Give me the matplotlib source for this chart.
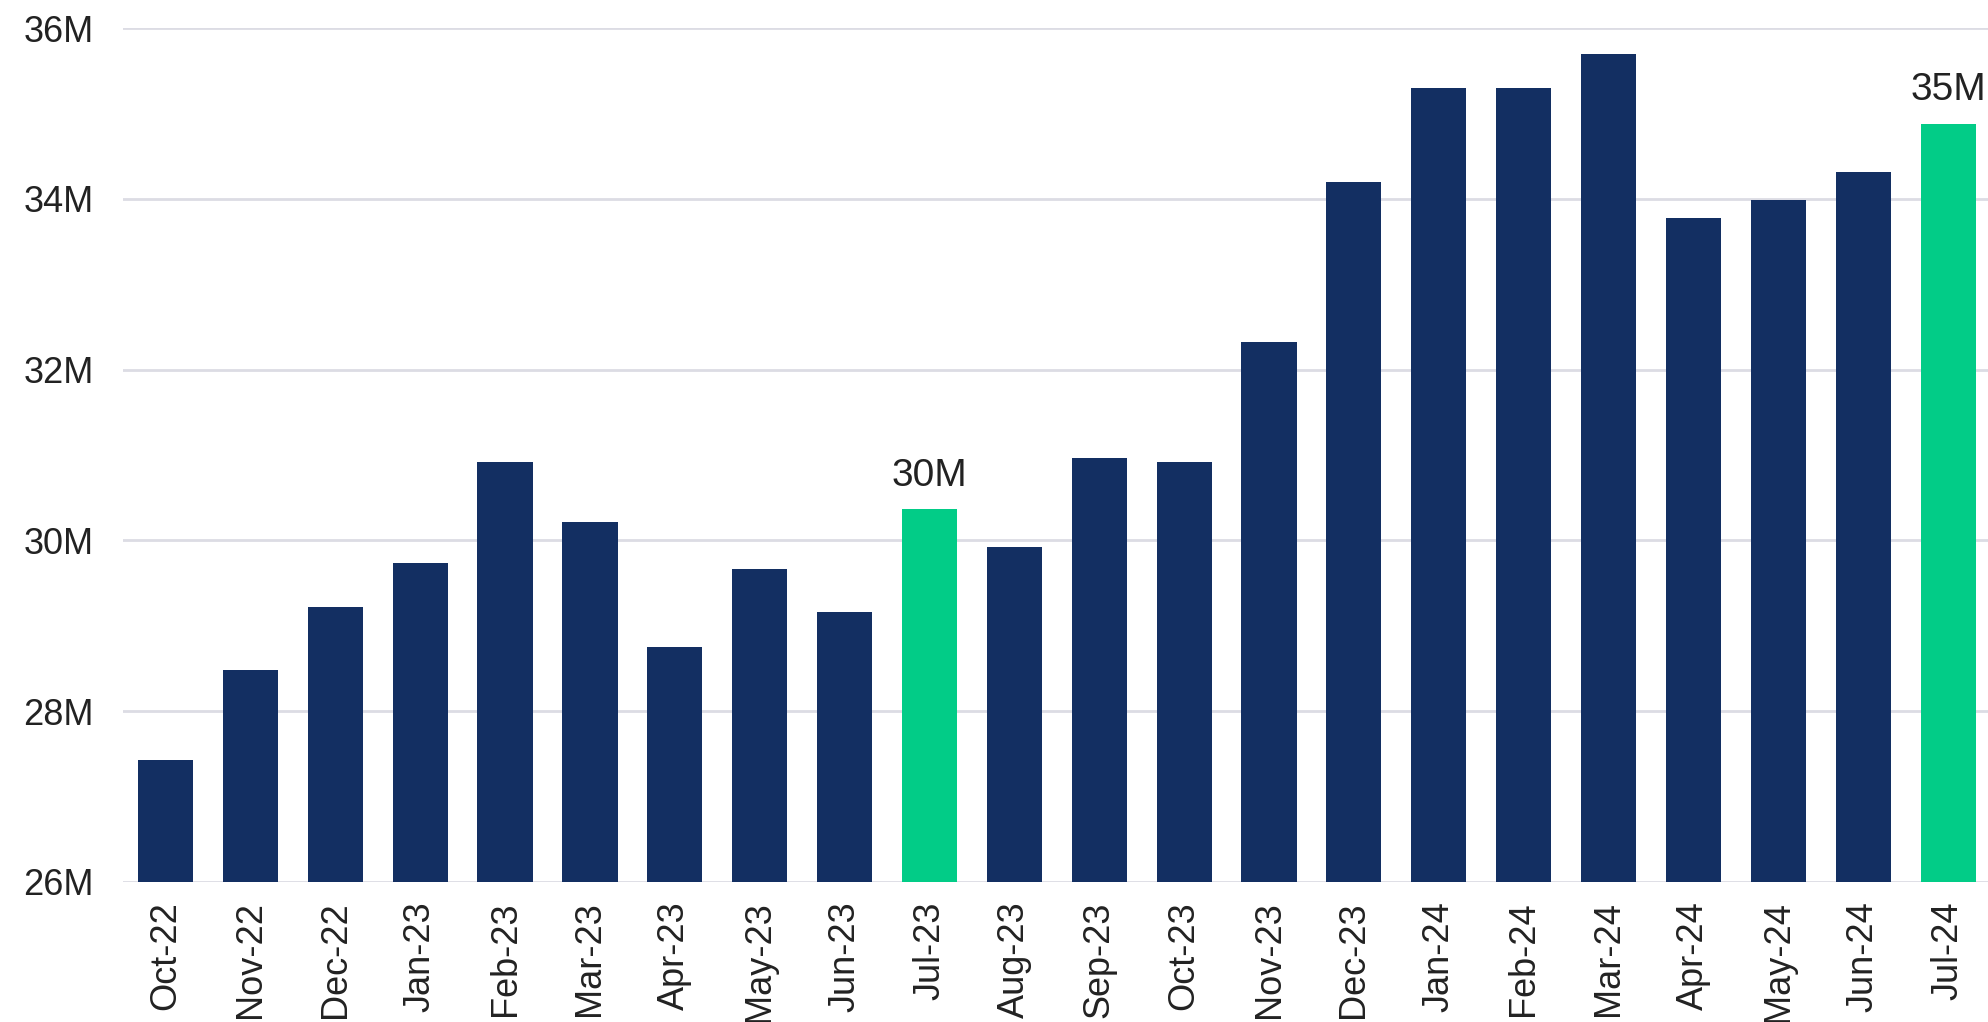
import matplotlib.pyplot as plt
from matplotlib.ticker import FuncFormatter

plt.rcParams['font.family'] = ['Liberation Sans', 'DejaVu Sans']

# monthly values, millions
months = ['Oct-22', 'Nov-22', 'Dec-22', 'Jan-23', 'Feb-23', 'Mar-23', 'Apr-23',
          'May-23', 'Jun-23', 'Jul-23', 'Aug-23', 'Sep-23', 'Oct-23', 'Nov-23',
          'Dec-23', 'Jan-24', 'Feb-24', 'Mar-24', 'Apr-24', 'May-24', 'Jun-24', 'Jul-24']
values = [27.43, 28.48, 29.22, 29.74, 30.92, 30.22, 28.75, 29.66, 29.16, 30.37,
          29.92, 30.96, 30.92, 32.32, 34.20, 35.30, 35.30, 35.70, 33.77, 33.99,
          34.31, 34.88]
highlight = ['Jul-23', 'Jul-24']

navy = '#132f62'
green = '#02cc87'
colors = [green if m in highlight else navy for m in months]

fig = plt.figure(figsize=(19.88, 10.22), dpi=100)
ax = fig.add_axes([0.0619, 0.137, 0.9381, 0.8356])

x = range(len(months))
ax.bar(x, values, width=0.65, color=colors, zorder=3)

# labels on the highlighted bars
for i, (m, v) in enumerate(zip(months, values)):
    if m in highlight:
        ax.annotate(f'{round(v)}M', (i, v), xytext=(0, 11), textcoords='offset points',
                    ha='center', va='bottom', fontsize=28, color='#222222')

ax.set_ylim(26, 36)
ax.set_yticks([26, 28, 30, 32, 34, 36])
ax.yaxis.set_major_formatter(FuncFormatter(lambda v, p: f'{v:.0f}M'))
ax.set_xlim(-0.5, 21.47)
ax.set_xticks(list(x))
ax.set_xticklabels(months, rotation=90)

ax.grid(axis='y', color='#dcdce4', linewidth=2, zorder=0)
for s in ax.spines.values():
    s.set_visible(False)
ax.tick_params(axis='both', length=0, labelsize=26, labelcolor='#222222')
ax.tick_params(axis='y', pad=21)
ax.tick_params(axis='x', pad=14)

fig.savefig('out.png', dpi=100)
